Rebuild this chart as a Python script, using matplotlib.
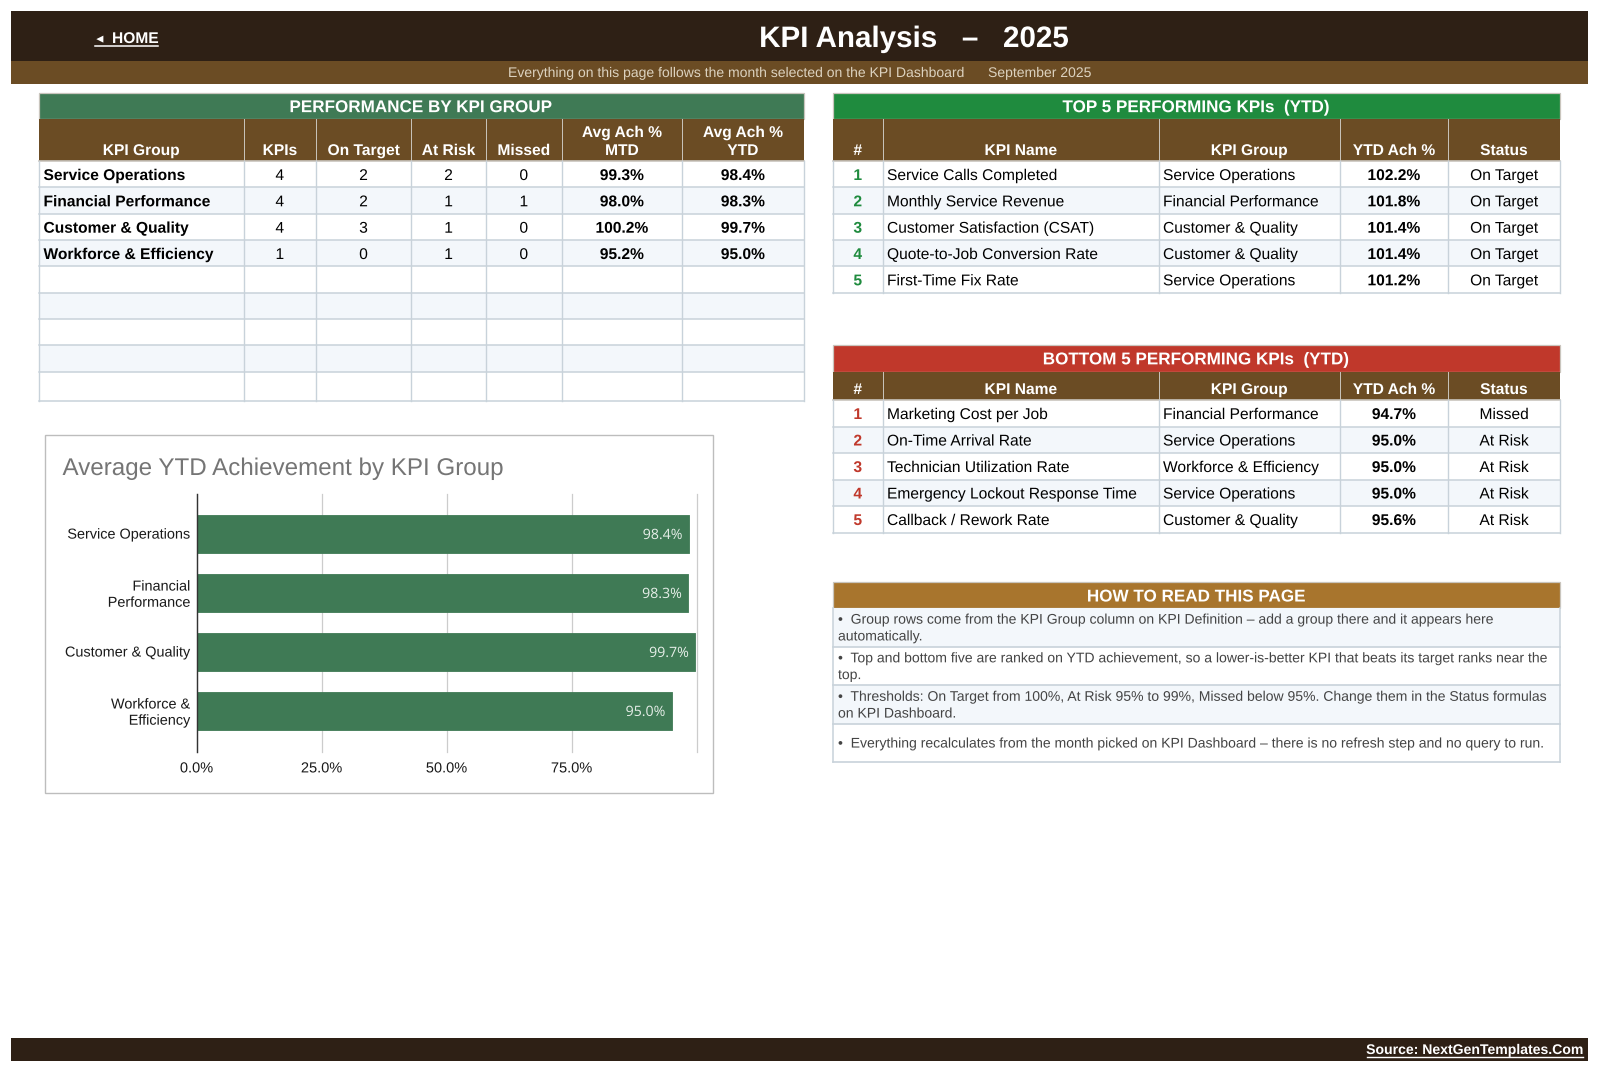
import matplotlib
matplotlib.use("Agg")
import matplotlib.pyplot as plt
import matplotlib.patheffects as pe
from matplotlib.patches import Rectangle
from matplotlib.transforms import ScaledTranslation

plt.rcParams['font.family'] = ['Liberation Sans', 'DejaVu Sans']
# text goes through paths, keeps baselines in a row on the same pixel
plt.rcParams['path.effects'] = [pe.Normal()]

# data
group_headers = [["KPI Group"], ["KPIs"], ["On Target"], ["At Risk"], ["Missed"], ["Avg Ach %", "MTD"], ["Avg Ach %", "YTD"]]
groups = ["Service Operations", "Financial Performance", "Customer & Quality", "Workforce & Efficiency"]
kpi_counts = [4, 4, 4, 1]
on_target = [2, 2, 3, 0]
at_risk = [2, 1, 1, 1]
missed = [0, 1, 0, 0]
avg_mtd = [99.3, 98.0, 100.2, 95.2]
avg_ytd = [98.4, 98.3, 99.7, 95.0]

rank_headers = ["#", "KPI Name", "KPI Group", "YTD Ach %", "Status"]
top_names = ["Service Calls Completed", "Monthly Service Revenue", "Customer Satisfaction (CSAT)",
             "Quote-to-Job Conversion Rate", "First-Time Fix Rate"]
top_groups = ["Service Operations", "Financial Performance", "Customer & Quality", "Customer & Quality", "Service Operations"]
top_ytd = [102.2, 101.8, 101.4, 101.4, 101.2]
top_status = ["On Target"] * 5

bottom_names = ["Marketing Cost per Job", "On-Time Arrival Rate", "Technician Utilization Rate",
                "Emergency Lockout Response Time", "Callback / Rework Rate"]
bottom_groups = ["Financial Performance", "Service Operations", "Workforce & Efficiency", "Service Operations", "Customer & Quality"]
bottom_ytd = [94.7, 95.0, 95.0, 95.0, 95.6]
bottom_status = ["Missed", "At Risk", "At Risk", "At Risk", "At Risk"]

notes = [
    "•  Group rows come from the KPI Group column on KPI Definition – add a group there and it appears here\nautomatically.",
    "•  Top and bottom five are ranked on YTD achievement, so a lower-is-better KPI that beats its target ranks near the\ntop.",
    "•  Thresholds: On Target from 100%, At Risk 95% to 99%, Missed below 95%. Change them in the Status formulas\non KPI Dashboard.",
    "•  Everything recalculates from the month picked on KPI Dashboard – there is no refresh step and no query to run.",
]

chart_labels = ["Service Operations", "Financial\nPerformance", "Customer & Quality", "Workforce &\nEfficiency"]
chart_ticks = [0, 25, 50, 75, 100]
chart_ticklabels = ["0.0%", "25.0%", "50.0%", "75.0%", ""]

# colours
DARK = "#2e2015"
BROWN = "#6b4c24"
GREEN = "#3f7a55"
TOP_GREEN = "#1f8b3e"
RED = "#c0382b"
GOLD = "#a8752d"
GRID = "#c8d2da"
ALT = "#f3f7fb"
HEAD_LINE = "#c9c5bd"

fig = plt.figure(figsize=(16, 10.72), dpi=100, facecolor="white")
ax = fig.add_axes([0, 0, 1, 1])
ax.set_xlim(0, 1600)
ax.set_ylim(1072, 0)
ax.axis("off")


def box(x0, y0, x1, y1, color, **kw):
    ax.add_patch(Rectangle((x0, y0), x1 - x0, y1 - y0, facecolor=color, edgecolor=kw.pop("edge", "none"),
                           linewidth=kw.pop("lw", 0), **kw))


def cell_text(x, y, s, size=11.2, color="black", weight="normal", ha="center"):
    ax.text(x, y, s, fontsize=size, color=color, fontweight=weight, ha=ha, va="baseline")


def title_bar(x0, x1, y0, y1, color, s, dy=0):
    box(x0, y0, x1, y1, color, edge=HEAD_LINE, lw=0.9)
    ax.text((x0 + x1) / 2, (y0 + y1) / 2 + 6 + dy, s, fontsize=12.3, color="white", fontweight="bold", ha="center", va="baseline")


def head_row(xs, y0, y1, headers):
    box(xs[0], y0, xs[-1], y1, BROWN)
    ax.plot([xs[0], xs[-1]], [y1, y1], color=HEAD_LINE, lw=1.2)
    for i, h in enumerate(headers):
        cx = (xs[i] + xs[i + 1]) / 2
        if i > 0:
            ax.plot([xs[i], xs[i]], [y0, y1], color=HEAD_LINE, lw=0.7)
        if isinstance(h, str):
            h = [h]
        for k, line in enumerate(reversed(h)):
            cell_text(cx, y1 - 6 - k * 18, line, color="white", weight="bold")


def body_grid(xs, rows):
    for r in range(len(rows) - 1):
        if r % 2 == 1:
            box(xs[0], rows[r], xs[-1], rows[r + 1], ALT)
    for y in rows[1:]:
        ax.plot([xs[0], xs[-1]], [y, y], color=GRID, lw=1.1)
    for x in xs:
        ax.plot([x, x], [rows[0], rows[-1]], color=GRID, lw=1.0)


# page bands
box(11, 11, 1588, 61, DARK)
box(11, 61, 1588, 84, BROWN)
box(11, 1038, 1588, 1061, DARK)

ax.text(914.5, 47, "KPI Analysis   –   2025", fontsize=21.3, color="white", fontweight="bold", ha="center", va="baseline")
ax.text(94, 42.5, "◄", fontsize=8.5, color="white", ha="left", va="baseline")
ax.text(112, 43, "HOME", fontsize=11.2, color="white", fontweight="bold", ha="left", va="baseline")
ax.plot([95, 158], [45.5, 45.5], color="white", lw=1.1)
ax.text(508, 77, "Everything on this page follows the month selected on the KPI Dashboard", fontsize=10.07,
        color="#dcd2bf", ha="left", va="baseline")
ax.text(988, 77, "September 2025", fontsize=10.07, color="#dcd2bf", ha="left", va="baseline")
ax.text(1583, 1054, "Source: NextGenTemplates.Com", fontsize=10.1, color="white", fontweight="bold", ha="right", va="baseline")
ax.plot([1367, 1583], [1056.5, 1056.5], color="white", lw=1.0)

# performance table
g_x = [38.5, 243.5, 316, 411, 486, 561.5, 682, 803.5]
g_rows = [161, 187.3, 213.7, 240, 266.3, 292.7, 319.3, 345.3, 371.7, 400.5]
title_bar(g_x[0], g_x[-1], 93, 119.3, GREEN, "PERFORMANCE BY KPI GROUP")
head_row(g_x, 119.3, 161, group_headers)
body_grid(g_x, g_rows)
for i, name in enumerate(groups):
    base = g_rows[i] + 19
    cell_text(g_x[0] + 5, base, name, weight="bold", ha="left")
    vals = [kpi_counts[i], on_target[i], at_risk[i], missed[i]]
    for j, v in enumerate(vals):
        cell_text((g_x[j + 1] + g_x[j + 2]) / 2, base, str(v))
    cell_text((g_x[5] + g_x[6]) / 2, base, f"{avg_mtd[i]:.1f}%", weight="bold")
    cell_text((g_x[6] + g_x[7]) / 2, base, f"{avg_ytd[i]:.1f}%", weight="bold")


def rank_table(y_title, y_head, y_body, rows, color, names, grps, ytd, status, title):
    xs = [833, 882.5, 1158.5, 1339.5, 1448, 1560]
    title_bar(xs[0], xs[-1], y_title, y_head, color, title)
    head_row(xs, y_head, y_body, rank_headers)
    body_grid(xs, rows)
    for i in range(len(names)):
        base = rows[i] + 19
        cell_text((xs[0] + xs[1]) / 2, base, str(i + 1), color=color, weight="bold")
        cell_text(xs[1] + 4.5, base, names[i], ha="left")
        cell_text(xs[2] + 4.5, base, grps[i], ha="left")
        cell_text((xs[3] + xs[4]) / 2, base, f"{ytd[i]:.1f}%", weight="bold")
        cell_text((xs[4] + xs[5]) / 2, base, status[i])


rank_table(93, 119.3, 161, [161, 187.3, 213.7, 240, 266.3, 292.7], TOP_GREEN,
           top_names, top_groups, top_ytd, top_status, "TOP 5 PERFORMING KPIs  (YTD)")
rank_table(345, 371.7, 400, [400, 426.5, 453, 479.5, 506, 532.5], RED,
           bottom_names, bottom_groups, bottom_ytd, bottom_status, "BOTTOM 5 PERFORMING KPIs  (YTD)")

# how to read
title_bar(833, 1560, 582, 608, GOLD, "HOW TO READ THIS PAGE", dy=0.5)
n_rows = [608, 646.7, 685.3, 723.7, 762]
for r in range(4):
    if r % 2 == 0:
        box(833, n_rows[r], 1560, n_rows[r + 1], ALT)
    ax.plot([833, 1560], [n_rows[r + 1]] * 2, color=GRID, lw=1.2)
    ax.text(838, (n_rows[r] + n_rows[r + 1]) / 2 + 0.7, notes[r], fontsize=10.08, color="#444444", ha="left",
            va="center", linespacing=1.25)
ax.plot([833, 833], [608, 762], color=GRID, lw=1.1)
ax.plot([1560, 1560], [608, 762], color=GRID, lw=1.1)

# chart card
box(45, 435, 712.5, 792.5, "white", edge="#bdbdbd", lw=1.0)
ax.text(62.5, 466.5, "Average YTD Achievement by KPI Group", fontsize=17.4, color="#757575", ha="left", va="center_baseline")

cax = fig.add_axes([196.6 / 1600, 1 - 751.7 / 1072, 500 / 1600, 257.7 / 1072])
cax.barh(range(len(avg_ytd)), avg_ytd, height=0.635, color=GREEN, edgecolor=GREEN, linewidth=0.6, joinstyle="round", zorder=3)
cax.set_xlim(0, 100)
cax.set_ylim(3.69, -0.68)
cax.set_yticks(range(len(chart_labels)))
cax.set_yticklabels(chart_labels, fontsize=10.4, color="#1a1a1a", linespacing=1.2)
cax.set_xticks(chart_ticks)
cax.set_xticklabels(chart_ticklabels, fontsize=10.5, color="#1a1a1a")
cax.tick_params(axis="both", length=0)
cax.tick_params(axis="y", pad=4.6)
cax.tick_params(axis="x", pad=7)
for label in cax.get_yticklabels():
    label.set_transform(label.get_transform() + ScaledTranslation(0, 1 / 100, fig.dpi_scale_trans))
cax.grid(axis="x", color="#cccccc", lw=0.9, zorder=0)
for line in cax.get_xgridlines():
    line.set_clip_on(False)
cax.set_axisbelow(True)
for side in ["top", "right", "bottom"]:
    cax.spines[side].set_visible(False)
cax.spines["left"].set_color("#333333")
cax.spines["left"].set_linewidth(1.0)
cax.spines["left"].set_zorder(5)
for i, v in enumerate(avg_ytd):
    cax.annotate(f"{v:.1f}%", (v, i), xytext=(-4.5, -1), textcoords="offset points", ha="right", va="center",
                 fontsize=10.2, color="#e6eee8", family="Open Sans", zorder=6)

fig.savefig("out.png", dpi=100)
